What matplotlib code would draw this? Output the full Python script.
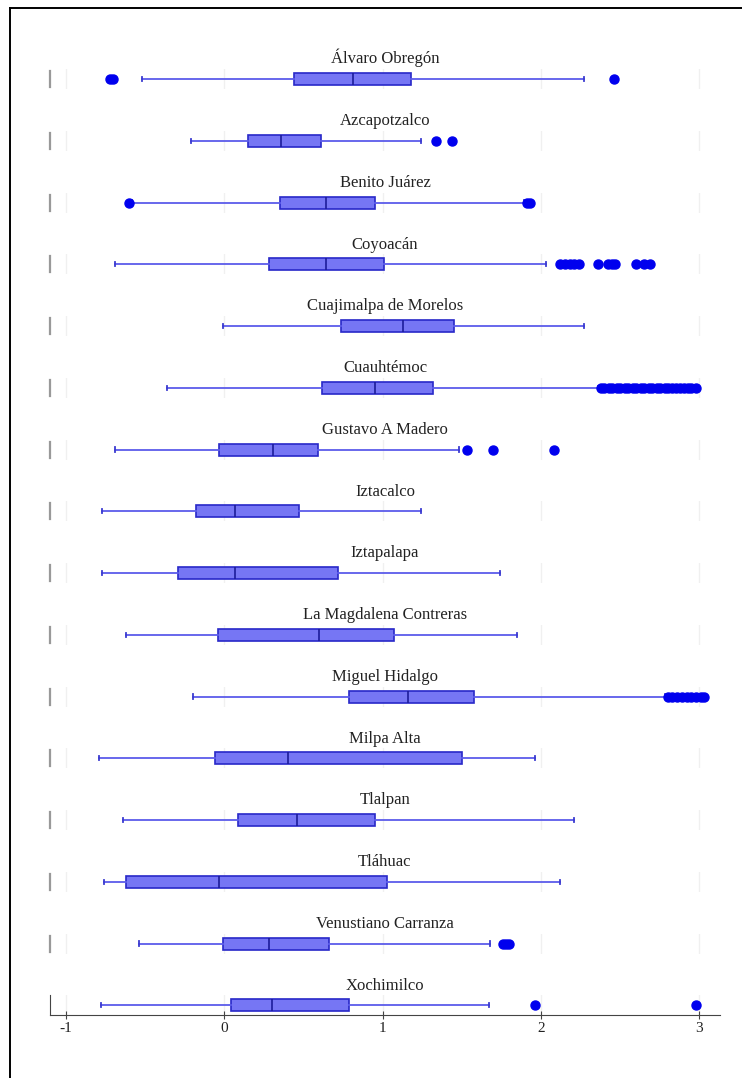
import matplotlib.pyplot as plt
from matplotlib.lines import Line2D

plt.rcParams['font.family'] = ['Liberation Serif', 'DejaVu Serif']
plt.rcParams['axes.unicode_minus'] = False

alcaldias = ['Álvaro Obregón', 'Azcapotzalco', 'Benito Juárez', 'Coyoacán',
             'Cuajimalpa de Morelos', 'Cuauhtémoc', 'Gustavo A Madero', 'Iztacalco',
             'Iztapalapa', 'La Magdalena Contreras', 'Miguel Hidalgo', 'Milpa Alta',
             'Tlalpan', 'Tláhuac', 'Venustiano Carranza', 'Xochimilco']

whislo = [-0.52, -0.21, -0.58, -0.69, -0.01, -0.36, -0.69, -0.77,
          -0.77, -0.62, -0.20, -0.79, -0.64, -0.76, -0.54, -0.78]
q1 = [0.44, 0.15, 0.35, 0.28, 0.74, 0.62, -0.03, -0.18,
      -0.29, -0.04, 0.79, -0.06, 0.09, -0.62, -0.01, 0.04]
med = [0.81, 0.36, 0.64, 0.64, 1.13, 0.95, 0.31, 0.07,
       0.07, 0.60, 1.16, 0.40, 0.46, -0.03, 0.28, 0.30]
q3 = [1.18, 0.61, 0.95, 1.01, 1.45, 1.32, 0.59, 0.47,
      0.72, 1.07, 1.58, 1.50, 0.95, 1.03, 0.66, 0.79]
whishi = [2.27, 1.24, 1.89, 2.03, 2.27, 2.36, 1.48, 1.24,
          1.74, 1.85, 2.78, 1.96, 2.21, 2.12, 1.68, 1.67]
fliers = [
    [-0.72, -0.70, 2.46],
    [1.34, 1.44],
    [-0.60, 1.91, 1.93],
    [2.12, 2.15, 2.18, 2.21, 2.24, 2.36, 2.42, 2.45, 2.47, 2.60, 2.65, 2.69],
    [],
    [2.38, 2.40, 2.43, 2.45, 2.48, 2.50, 2.53, 2.55, 2.58, 2.60, 2.63, 2.65,
     2.68, 2.70, 2.73, 2.75, 2.78, 2.80, 2.83, 2.85, 2.88, 2.90, 2.93, 2.95, 2.98],
    [1.53, 1.70, 2.08],
    [],
    [],
    [],
    [2.80, 2.83, 2.86, 2.89, 2.92, 2.95, 2.98, 3.01, 3.03],
    [],
    [],
    [],
    [1.76, 1.78, 1.80],
    [1.96, 2.98],
]

W, H = 742, 1078
fig = plt.figure(figsize=(W / 100, H / 100), dpi=100)

x0, x1 = 50, 720
row_h = 20
for i, name in enumerate(alcaldias):
    yc = 79 + i * 61.75
    ax = fig.add_axes([x0 / W, 1 - (yc + row_h / 2) / H, (x1 - x0) / W, row_h / H])
    stats = [dict(whislo=whislo[i], q1=q1[i], med=med[i], q3=q3[i],
                  whishi=whishi[i], fliers=fliers[i])]
    ax.bxp(stats, orientation='horizontal', widths=0.6, capwidths=0.22,
           patch_artist=True,
           boxprops=dict(facecolor='#7676f4', edgecolor='#2828c8', linewidth=1.2),
           medianprops=dict(color='#1c1c9a', linewidth=1.2),
           whiskerprops=dict(color='#5c5cea', linewidth=1.3),
           capprops=dict(color='#3a3ad0', linewidth=1.3),
           flierprops=dict(marker='o', markersize=6.5, markerfacecolor='#0000ee',
                           markeredgecolor='#0000ee'))
    ax.set_xlim(-1.1, 3.13)
    ax.set_ylim(0.5, 1.5)
    ax.set_yticks([])
    ax.set_xticks([-1, 0, 1, 2, 3])
    ax.grid(axis='x', color='#f0f0f0', linewidth=1)
    ax.set_axisbelow(True)
    ax.spines['top'].set_visible(False)
    ax.spines['right'].set_visible(False)
    ax.set_title(name, fontsize=12, color='#222222', pad=4)
    if i < len(alcaldias) - 1:
        ax.spines['bottom'].set_visible(False)
        ax.spines['left'].set_color('#999999')
        ax.spines['left'].set_linewidth(1.6)
        ax.spines['left'].set_bounds(0.6, 1.4)
        ax.tick_params(axis='x', length=0, labelbottom=False)
    else:
        ax.spines['bottom'].set_color('#444444')
        ax.spines['left'].set_color('#444444')
        ax.tick_params(axis='x', direction='inout', length=6, color='#444444',
                       labelsize=11, labelcolor='#222222', pad=2)

# frame lines along the top and left edges
fig.add_artist(Line2D([10 / W, 1], [1 - 8 / H, 1 - 8 / H], color='black', linewidth=1.4))
fig.add_artist(Line2D([10 / W, 10 / W], [0, 1 - 8 / H], color='black', linewidth=1.4))

fig.savefig('out.png', dpi=100)
